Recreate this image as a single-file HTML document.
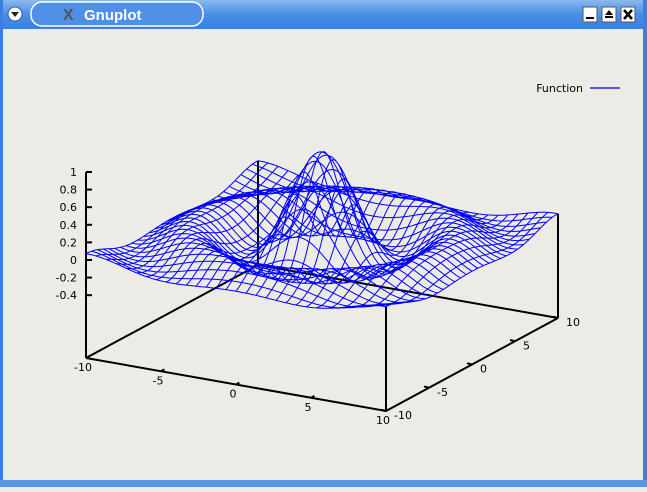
<!DOCTYPE html>
<html><head><meta charset="utf-8"><style>
body{margin:0;width:647px;height:487px;overflow:hidden;background:#ecebe5;font-family:"Liberation Sans",sans-serif;}
</style></head><body>
<svg width="647" height="487" xmlns="http://www.w3.org/2000/svg">
<defs>
<linearGradient id="tb" x1="0" y1="0" x2="0" y2="1"><stop offset="0" stop-color="#8bb8ee"/><stop offset="0.5" stop-color="#4a8ee6"/><stop offset="1" stop-color="#3a7fe0"/></linearGradient>
</defs>
<rect x="0" y="0" width="647" height="487" fill="#ecebe5"/>
<rect x="0" y="0" width="647" height="29" fill="url(#tb)"/>
<rect x="0" y="0" width="3" height="487" fill="#3a7fe0"/>
<rect x="643" y="0" width="4" height="487" fill="#3a7fe0"/>
<rect x="0" y="480" width="647" height="7" fill="#5a95e6"/>
<circle cx="15" cy="14" r="7" fill="#fff" stroke="#2a5fb0"/>
<path d="M11,12 L19,12 L15,17 Z" fill="#222"/>
<rect x="31" y="2" width="172" height="24" rx="11" fill="#4f90e6" stroke="#fff" stroke-width="1.5"/>
<text x="63" y="20" font-size="16" fill="#555" font-weight="bold">X</text>
<text x="84" y="20" font-size="15" fill="#fff" font-weight="bold">Gnuplot</text>
<g><rect x="583" y="7" width="14" height="15" fill="#fff" stroke="#555"/><rect x="586" y="17" width="8" height="2" fill="#000"/></g>
<g><rect x="602" y="7" width="14" height="15" fill="#fff" stroke="#555"/><path d="M605,15 L609,10 L613,15Z M605,16h8v2h-8z" fill="#000"/></g>
<g><rect x="621" y="7" width="14" height="15" fill="#fff" stroke="#555"/><path d="M624,10 L632,19 M632,10 L624,19" stroke="#000" stroke-width="2.5"/></g>
<g id="plot"></g>
<g>
<text x="583" y="92" font-size="11" text-anchor="end" font-family="DejaVu Sans,sans-serif">Function</text>
<line x1="590" y1="88" x2="620" y2="88" stroke="#0000ff" stroke-width="1.2"/>
</g>
</svg>
<script>
const xRange = [-10, 10];
const yRange = [-10, 10];
const zTicks = [1, 0.8, 0.6, 0.4, 0.2, 0, -0.2, -0.4];
const zTickLabels = ["1","0.8","0.6","0.4","0.2","0","-0.2","-0.4"];
const xTicks = [-10, -5, 0, 5, 10];
const yTicks = [-10, -5, 0, 5, 10];
const isoCount = 31;
const sampleCount = 100;
function surf(x, y){ const r = Math.sqrt(x*x+y*y); return r < 1e-9 ? 1 : Math.sin(r)/r; }

const NS = "http://www.w3.org/2000/svg";
const g = document.getElementById('plot');
const cx = 322, cy = 338, zBase = -1.114, zs = 88;
function P(x, y, z){ return [cx + x*15 + y*8.6, cy + x*2.65 - y*4.65 - zs*(z - zBase)]; }
function line(a, b, name, w){
  const l = document.createElementNS(NS,'line');
  l.setAttribute('x1',a[0]);l.setAttribute('y1',a[1]);l.setAttribute('x2',b[0]);l.setAttribute('y2',b[1]);
  l.setAttribute('stroke','#000');l.setAttribute('stroke-width',w||2);
  
  
  g.appendChild(l);
}
function text(x, y, s, anchor, name){
  const t = document.createElementNS(NS,'text');
  t.setAttribute('x',x);t.setAttribute('y',y);t.setAttribute('font-size','11');
  t.setAttribute('font-family','DejaVu Sans,sans-serif');t.setAttribute('text-anchor',anchor);
  t.textContent = s;
  
  
  g.appendChild(t);
}
const x0=xRange[0],x1=xRange[1],y0=yRange[0],y1=yRange[1];
line(P(x0,y0,zBase),P(x1,y0,zBase),'x-axis');
line(P(x1,y0,zBase),P(x1,y1,zBase),'y-axis');
line(P(x0,y0,zBase),P(x0,y1,zBase),'base-left-edge');
line(P(x0,y1,zBase),P(x1,y1,zBase),'base-back-edge');
line(P(x0,y0,zBase),P(x0,y0,zTicks[0]),'z-axis');
line(P(x1,y0,zBase),P(x1,y0,surf(x1,y0)),'corner-line-front-right');
line(P(x1,y1,zBase),P(x1,y1,surf(x1,y1)),'corner-line-right');
line(P(x0,y1,zBase),P(x0,y1,surf(x0,y1)),'corner-line-back');
zTicks.forEach((z,i)=>{
  const p = P(x0,y0,z);
  line(p,[p[0]+6,p[1]],'z-tick',2);
  text(p[0]-9,p[1]+4,zTickLabels[i],'end','z-tick-label');
});
xTicks.forEach(x=>{
  const p=P(x,y0,zBase);
  line(p,[p[0]+3.4,p[1]-1.9],'x-tick',2);
  text(p[0]-3,p[1]+13,String(x),'middle','x-tick-label');
});
yTicks.forEach(y=>{
  const p=P(x1,y,zBase);
  line(p,[p[0]-5,p[1]-1.3],'y-tick',2);
  text(p[0]+8,p[1]+8,String(y),'start','y-tick-label');
});
function pathD(pts){ return pts.map((p,i)=>(i?'L':'M')+p[0].toFixed(1)+','+p[1].toFixed(1)).join(''); }
let d='';
for(let i=0;i<isoCount;i++){
  const v = y0 + (y1-y0)*i/(isoCount-1);
  const a=[],b=[];
  for(let k=0;k<sampleCount;k++){
    const u = x0 + (x1-x0)*k/(sampleCount-1);
    a.push(P(u,v,surf(u,v)));
    b.push(P(v,u,surf(v,u)));
  }
  d += pathD(a)+pathD(b);
}
const sp=document.createElementNS(NS,'path');
sp.setAttribute('d',d);sp.setAttribute('fill','none');sp.setAttribute('stroke','#0000ff');sp.setAttribute('stroke-width','1');


g.appendChild(sp);
</script>
</body></html>
